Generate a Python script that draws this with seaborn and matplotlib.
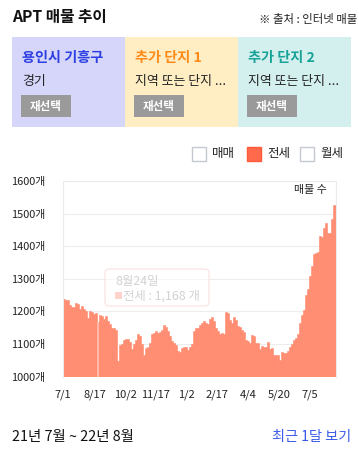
import numpy as np
import pandas as pd
import seaborn as sns
import matplotlib.pyplot as plt
from matplotlib.patches import Rectangle, FancyBboxPatch

# chart data: listing counts (전세), one value per 3-day step from 2021-07-01
start_date = "2021-07-01"
step_days = 3
listing_counts = [
    1238, 1236, 1235, 1220, 1213, 1215, 1226, 1222, 1208, 1218,
    1208, 1200, 1180, 1200, 1197, 1192, 1196, 1168, 1190, 1185,
    1178, 1185, 1170, 1162, 1148, 1150, 1143, 1048, 1097, 1100,
    1113, 1115, 1115, 1105, 1084, 1100, 1112, 1130, 1125, 1100,
    1066, 1088, 1092, 1104, 1130, 1133, 1140, 1135, 1138, 1142,
    1160, 1152, 1140, 1125, 1110, 1102, 1098, 1078, 1075, 1088,
    1090, 1090, 1083, 1090, 1100, 1140, 1148, 1150, 1158, 1165,
    1170, 1165, 1162, 1178, 1183, 1170, 1150, 1140, 1130, 1133,
    1130, 1198, 1196, 1175, 1165, 1182, 1175, 1155, 1153, 1142,
    1137, 1113, 1108, 1102, 1128, 1125, 1103, 1102, 1085, 1095,
    1090, 1090, 1107, 1085, 1088, 1068, 1066, 1066, 1050, 1075,
    1074, 1072, 1080, 1090, 1100, 1112, 1120, 1131, 1165, 1189,
    1205, 1250, 1270, 1310, 1338, 1375, 1380, 1382, 1432, 1428,
    1455, 1472, 1442, 1440, 1483, 1526,
]
highlight_date = "2021-08-24"
highlight_value = 1168

y_ticks = [1000, 1100, 1200, 1300, 1400, 1500, 1600]
x_tick_dates = ["2021-07-01", "2021-08-17", "2021-10-02", "2021-11-17", "2022-01-02",
                "2022-02-17", "2022-04-04", "2022-05-20", "2022-07-05"]
x_tick_labels = ["7/1", "8/17", "10/2", "11/17", "1/2", "2/17", "4/4", "5/20", "7/5"]

panel_titles = ["용인시 기흥구", "추가 단지 1", "추가 단지 2"]
panel_subtitles = ["경기", "지역 또는 단지 ...", "지역 또는 단지 ..."]
legend_labels = ["매매", "전세", "월세"]

# colours
bar_color = "#FF8B70"
bar_hl_color = "#FFB9A6"
panel_colors = ["#D5D6FA", "#FFEDC4", "#D3F0EE"]
panel_title_colors = ["#2D3FE3", "#FF8A17", "#17A398"]

W, H = 359, 450

sns.set_theme(style="white")
plt.rcParams["font.family"] = ["Noto Sans CJK KR", "DejaVu Sans"]

fig = plt.figure(figsize=(W / 100, H / 100), dpi=100)
fig.patch.set_facecolor("white")

# background layer in pixel coordinates (y down)
bg = fig.add_axes([0, 0, 1, 1], zorder=0)
bg.set_xlim(0, W)
bg.set_ylim(H, 0)
bg.axis("off")

bg.text(12, 17, "APT 매물 추이", fontsize=11.3, fontweight="bold", color="#111111", va="center")
bg.text(357, 20, "※ 출처 : 인터넷 매물", fontsize=8.2, color="#222222", va="center", ha="right")

for i in range(3):
    x0 = 12 + i * 113
    bg.add_patch(Rectangle((x0, 37), 113, 90, facecolor=panel_colors[i], edgecolor="none"))
    bg.text(x0 + 10, 58, panel_titles[i], fontsize=10.2, fontweight="bold",
            color=panel_title_colors[i], va="center")
    bg.text(x0 + 10, 81, panel_subtitles[i], fontsize=9.3, color="#222222", va="center")
    bg.add_patch(Rectangle((x0 + 9, 95), 50, 22, facecolor="#9A9A9A", edgecolor="none"))
    bg.text(x0 + 34, 106, "재선택", fontsize=8.3, fontweight="bold", color="white",
            va="center", ha="center")

# legend boxes
legend_x = [192, 247, 300]
for i, lab in enumerate(legend_labels):
    if lab == "전세":
        bg.add_patch(Rectangle((legend_x[i], 147), 14, 14, facecolor="#FF6A4D",
                               edgecolor="#FF5A3A", lw=1))
    else:
        bg.add_patch(Rectangle((legend_x[i], 147), 14, 14, facecolor="white",
                               edgecolor="#C5C8D0", lw=1))
    bg.text(legend_x[i] + 20, 153.5, lab, fontsize=9, color="#222222", va="center")

bg.text(12, 437, "21년 7월 ~ 22년 8월", fontsize=10.4, color="#111111", va="center")
bg.text(351, 437, "최근 1달 보기", fontsize=10.2, color="#3A5BE8", va="center", ha="right")

# chart
start = pd.Timestamp(start_date)
n = len(listing_counts)
days = np.arange(n) * step_days
df = pd.DataFrame({"day": days + step_days / 2, "count": listing_counts})

left, right, top, bottom = 63, 335.5, 181, 376.7
ax = fig.add_axes([left / W, 1 - bottom / H, (right - left) / W, (bottom - top) / H], zorder=2)
ax.set_facecolor("none")

sns.barplot(data=df, x="day", y="count", native_scale=True, width=1, color=bar_color,
            saturation=1, linewidth=0.4, edgecolor=bar_color, errorbar=None, ax=ax)

hl_day = (pd.Timestamp(highlight_date) - start).days
hl_idx = (hl_day - 1) // step_days
ax.bar(days[hl_idx], highlight_value, width=step_days, align="edge",
       color=bar_hl_color, linewidth=0, zorder=3)

ax.set_xlim(0, n * step_days)
ax.set_ylim(1000, 1600)
ax.set_yticks(y_ticks)
ax.set_yticklabels([f"{v}개" for v in y_ticks])
tick_pos = [(pd.Timestamp(d) - start).days for d in x_tick_dates]
ax.set_xticks(tick_pos)
ax.set_xticklabels(x_tick_labels)
ax.set_xlabel("")
ax.set_ylabel("")
ax.tick_params(axis="y", length=0, pad=13, labelsize=7.9, labelcolor="#222222")
ax.tick_params(axis="x", length=0, pad=9, labelsize=8, labelcolor="#222222")
ax.grid(axis="y", color="#EDEDED", lw=0.8)
ax.set_axisbelow(True)
for sp in ["top", "right", "left"]:
    ax.spines[sp].set_color("#EBEBEB")
    ax.spines[sp].set_linewidth(0.8)
ax.spines["bottom"].set_visible(False)
ax.text(0.97, 0.955, "매물 수", transform=ax.transAxes, ha="right", va="center",
        fontsize=7.9, color="#222222")

# faded hover tooltip on top
fg = fig.add_axes([0, 0, 1, 1], zorder=5)
fg.set_xlim(0, W)
fg.set_ylim(H, 0)
fg.axis("off")
fg.patch.set_alpha(0)
fg.add_patch(FancyBboxPatch((105, 269), 104, 37, boxstyle="round,pad=0,rounding_size=4",
                            facecolor="white", alpha=0.55, edgecolor="none"))
fg.add_patch(FancyBboxPatch((105, 269), 104, 37, boxstyle="round,pad=0,rounding_size=4",
                            facecolor="none", edgecolor="#FBE2E2", lw=0.8))
fg.text(115, 282, "8월24일", fontsize=8.9, color="#D2D2D2", va="center")
fg.add_patch(Rectangle((115, 292), 7, 7, facecolor="#FFD3CB", edgecolor="none"))
fg.text(123, 296, f"전세 : {highlight_value:,} 개", fontsize=8.9, color="#D2D2D2", va="center")

fig.savefig("out.png", dpi=100)
